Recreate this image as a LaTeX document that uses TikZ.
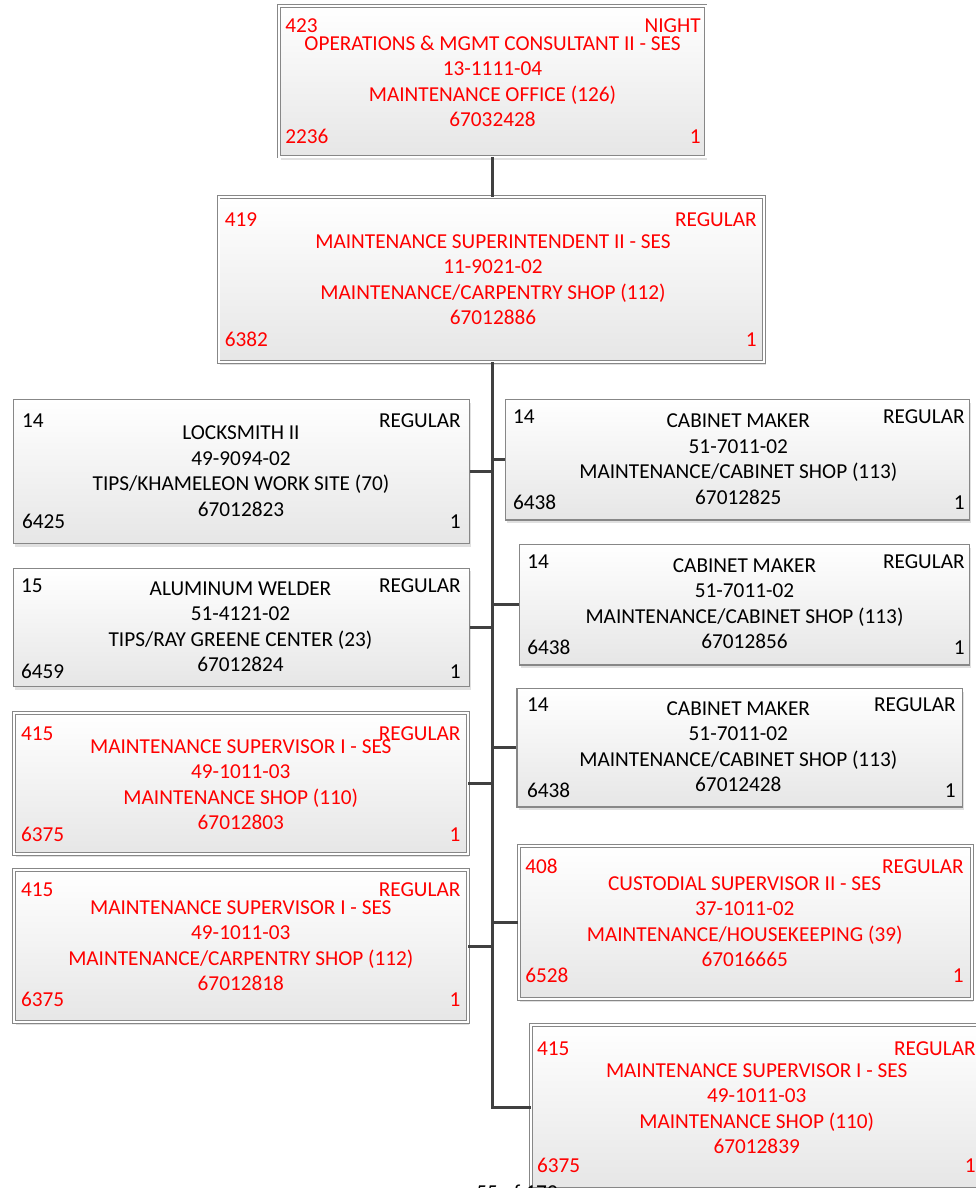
\documentclass[tikz,border=0pt]{standalone}
\usepackage{fontspec}
\setmainfont{Carlito}
\usepackage{tikz}
\usetikzlibrary{fit,shadows}

\definecolor{sesred}{RGB}{255,0,0}
\definecolor{cardline}{RGB}{135,135,135}
\definecolor{cardshade}{RGB}{230,230,230}
\definecolor{linkgray}{RGB}{64,64,64}

% strut so that the first line of a card body has a fixed height
\newcommand{\firstrow}{\rule{0pt}{0.36cm}}

% the four corner fields of a card: grade, shift, pay code, headcount
\newcommand{\cardtags}[9]{%
  \node[tag,#2,anchor=base west] (#1-grade) at (#3,#5) {#7};
  \node[tag,#2,anchor=base east] (#1-shift) at (#4,#5) {#8};
  \node[tag,#2,anchor=base west] (#1-code) at (#3,#6) {#9};
  \node[tag,#2,anchor=base east] (#1-count) at (#4,#6) {1};}

\begin{document}
\begin{tikzpicture}[
x=0.02cm, y=-0.02cm,
card/.style={
    rectangle,
    inner sep=0pt,
    draw=cardline,
    line width=0.8pt,
    top color=white,
    bottom color=cardshade,
    drop shadow={shadow xshift=0.03cm, shadow yshift=-0.06cm,
                 fill=black!12, opacity=1}
},
sescard/.style={
    card,
    line width=0.55pt,
    double=white,
    double distance=0.04cm
},
jobtext/.style={
    anchor=north,
    inner sep=0pt,
    align=center,
    font=\fontsize{12.1}{14.5}\selectfont
},
tag/.style={
    inner sep=0pt,
    font=\fontsize{12.1}{14.5}\selectfont
},
ses/.style={text=sesred},
plain/.style={text=black},
link/.style={
    draw=linkgray,
    line width=1.7pt
}
]

\fill[white] (0,0) rectangle (975,1188);
\useasboundingbox (0,0) rectangle (975,1188);

% Top of the chain
\node[sescard,fit={(279,6) (705.5,156.5)}] (consult) {};
\node[jobtext,ses] (consult-body) at (492.5,32)
{\firstrow OPERATIONS \& MGMT CONSULTANT II - SES\\13-1111-04\\MAINTENANCE OFFICE (126)\\67032428};
\cardtags{consult}{ses}{285}{701}{32.5}{143}{423}{NIGHT}{2236}

\node[sescard,fit={(218.5,197) (764,362)}] (super) {};
\node[jobtext,ses] (super-body) at (493,230)
{\firstrow MAINTENANCE SUPERINTENDENT II - SES\\11-9021-02\\MAINTENANCE/CARPENTRY SHOP (112)\\67012886};
\cardtags{super}{ses}{224.5}{757}{226}{346}{419}{REGULAR}{6382}

% Left column
\node[card,fit={(13.3,399.5) (469.5,543.5)}] (locksmith) {};
\node[jobtext,plain] (locksmith-body) at (241,421.3)
{\firstrow LOCKSMITH II\\49-9094-02\\TIPS/KHAMELEON WORK SITE (70)\\67012823};
\cardtags{locksmith}{plain}{21.7}{461}{427}{528.3}{14}{REGULAR}{6425}

\node[card,fit={(13.3,568.3) (469.5,686.7)}] (welder) {};
\node[jobtext,plain] (welder-body) at (240.5,577)
{\firstrow ALUMINUM WELDER\\51-4121-02\\TIPS/RAY GREENE CENTER (23)\\67012824};
\cardtags{welder}{plain}{20.7}{461}{592}{678}{15}{REGULAR}{6459}

\node[sescard,fit={(14.3,713.3) (467.7,854.3)}] (shopsup) {};
\node[jobtext,ses] (shopsup-body) at (240.8,734.7)
{\firstrow MAINTENANCE SUPERVISOR I - SES\\49-1011-03\\MAINTENANCE SHOP (110)\\67012803};
\cardtags{shopsup}{ses}{20.7}{460.7}{740}{841.7}{415}{REGULAR}{6375}

\node[sescard,fit={(14.3,870) (467.7,1022.3)}] (carpsup) {};
\node[jobtext,ses] (carpsup-body) at (240.8,896)
{\firstrow MAINTENANCE SUPERVISOR I - SES\\49-1011-03\\MAINTENANCE/CARPENTRY SHOP (112)\\67012818};
\cardtags{carpsup}{ses}{20.7}{460.7}{896.7}{1006.7}{415}{REGULAR}{6375}

% Right column
\node[card,fit={(505.5,399.5) (969.5,520)}] (cab1) {};
\node[jobtext,plain] (cab1-body) at (738.3,409.3)
{\firstrow CABINET MAKER\\51-7011-02\\MAINTENANCE/CABINET SHOP (113)\\67012825};
\cardtags{cab1}{plain}{512.7}{965}{423.5}{509.3}{14}{REGULAR}{6438}

\node[card,fit={(519.5,544.5) (969.5,665)}] (cab2) {};
\node[jobtext,plain] (cab2-body) at (744.5,554)
{\firstrow CABINET MAKER\\51-7011-02\\MAINTENANCE/CABINET SHOP (113)\\67012856};
\cardtags{cab2}{plain}{527}{965}{568.5}{654}{14}{REGULAR}{6438}

\node[card,fit={(517,688.5) (962.5,807)}] (cab3) {};
\node[jobtext,plain] (cab3-body) at (738.3,697)
{\firstrow CABINET MAKER\\51-7011-02\\MAINTENANCE/CABINET SHOP (113)\\67012428};
\cardtags{cab3}{plain}{526.7}{956}{711.7}{797.3}{14}{REGULAR}{6438}

\node[sescard,fit={(518.7,846) (971.7,999)}] (custsup) {};
\node[jobtext,ses] (custsup-body) at (744.7,872)
{\firstrow CUSTODIAL SUPERVISOR II - SES\\37-1011-02\\MAINTENANCE/HOUSEKEEPING (39)\\67016665};
\cardtags{custsup}{ses}{525}{964}{873.3}{982.7}{408}{REGULAR}{6528}

\node[sescard,fit={(531,1025.3) (985,1189)}] (shopsuptwo) {};
\node[jobtext,ses] (shopsuptwo-body) at (756.7,1058.7)
{\firstrow MAINTENANCE SUPERVISOR I - SES\\49-1011-03\\MAINTENANCE SHOP (110)\\67012839};
\cardtags{shopsuptwo}{ses}{536.7}{976}{1055}{1172.7}{415}{REGULAR}{6375}

% Connections
\draw[link] (consult.south) -- (consult.south |- super.north);
\draw[link] (super.south -| consult.south) |- (shopsuptwo.west);

\foreach \job in {locksmith,welder,shopsup,carpsup}
  \draw[link] (\job.east) -- (\job.east -| consult.south);
\foreach \job in {cab1,cab2,cab3,custsup}
  \draw[link] (\job.west) -- (\job.west -| consult.south);

% page footer
\node[tag,anchor=base] (pageno) at (517,1199) {55 of 179};

\end{tikzpicture}
\end{document}
